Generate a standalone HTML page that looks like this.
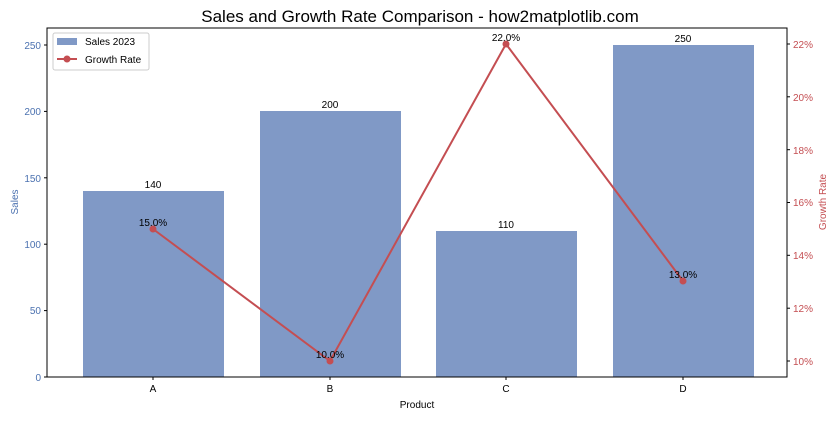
<!DOCTYPE html>
<html><head><meta charset="utf-8"><style>body{margin:0;background:#fff}</style></head>
<body>
<svg width="840" height="420" xmlns="http://www.w3.org/2000/svg" font-family="Liberation Sans, DejaVu Sans, sans-serif">
<rect width="840" height="420" fill="#fff"/>
<text x="420" y="22" font-size="17" text-anchor="middle" fill="#000">Sales and Growth Rate Comparison - how2matplotlib.com</text>
<g fill="#8099c6">
<rect x="83" y="191" width="141" height="186"/>
<rect x="260" y="111" width="141" height="266"/>
<rect x="436" y="231" width="141" height="146"/>
<rect x="613" y="45" width="141" height="332"/>
</g>
<g font-size="10" text-anchor="middle" fill="#000">
<text x="153" y="188">140</text><text x="330" y="108">200</text><text x="506" y="228">110</text><text x="683" y="42">250</text>
</g>
<polyline points="153,229 330,361 506,44 683,281" fill="none" stroke="#c44e52" stroke-width="2"/>
<g fill="#c44e52"><circle cx="153" cy="229" r="3.5"/><circle cx="330" cy="361" r="3.5"/><circle cx="506" cy="44" r="3.5"/><circle cx="683" cy="281" r="3.5"/></g>
<g font-size="10" text-anchor="middle" fill="#000">
<text x="153" y="226">15.0%</text><text x="330" y="358">10.0%</text><text x="506" y="41">22.0%</text><text x="683" y="278">13.0%</text>
</g>
<rect x="47" y="28" width="740" height="349" fill="none" stroke="#000" stroke-width="1"/>
<g stroke="#000">
<line x1="44" x2="47" y1="377" y2="377"/><line x1="44" x2="47" y1="310.6" y2="310.6"/><line x1="44" x2="47" y1="244.2" y2="244.2"/><line x1="44" x2="47" y1="177.8" y2="177.8"/><line x1="44" x2="47" y1="111.4" y2="111.4"/><line x1="44" x2="47" y1="45" y2="45"/>
<line x1="153" x2="153" y1="377" y2="380"/><line x1="330" x2="330" y1="377" y2="380"/><line x1="506" x2="506" y1="377" y2="380"/><line x1="683" x2="683" y1="377" y2="380"/>
<line x1="787" x2="790" y1="361" y2="361"/><line x1="787" x2="790" y1="308.2" y2="308.2"/><line x1="787" x2="790" y1="255.3" y2="255.3"/><line x1="787" x2="790" y1="202.5" y2="202.5"/><line x1="787" x2="790" y1="149.7" y2="149.7"/><line x1="787" x2="790" y1="96.8" y2="96.8"/><line x1="787" x2="790" y1="44" y2="44"/>
</g>
<g font-size="10" fill="#4c72b0" text-anchor="end">
<text x="41" y="381">0</text><text x="41" y="314">50</text><text x="41" y="248">100</text><text x="41" y="182">150</text><text x="41" y="115">200</text><text x="41" y="49">250</text>
</g>
<g font-size="10" fill="#c44e52">
<text x="793" y="365">10%</text><text x="793" y="312">12%</text><text x="793" y="259">14%</text><text x="793" y="206">16%</text><text x="793" y="154">18%</text><text x="793" y="101">20%</text><text x="793" y="48">22%</text>
</g>
<g font-size="10" fill="#000" text-anchor="middle">
<text x="153" y="392">A</text><text x="330" y="392">B</text><text x="506" y="392">C</text><text x="683" y="392">D</text>
<text x="417" y="408">Product</text>
</g>
<text transform="translate(18,202) rotate(-90)" font-size="10" fill="#4c72b0" text-anchor="middle">Sales</text>
<text transform="translate(826,202) rotate(-90)" font-size="10" fill="#c44e52" text-anchor="middle">Growth Rate</text>
<rect x="53" y="33" width="96" height="37" rx="2" fill="#fff" fill-opacity="0.8" stroke="#ccc"/>
<rect x="57" y="38" width="20" height="7" fill="#8099c6"/>
<text x="85" y="45" font-size="10">Sales 2023</text>
<line x1="57" x2="77" y1="59" y2="59" stroke="#c44e52" stroke-width="2"/>
<circle cx="67" cy="59" r="3.5" fill="#c44e52"/>
<text x="85" y="63" font-size="10">Growth Rate</text>
</svg>
</body></html>
